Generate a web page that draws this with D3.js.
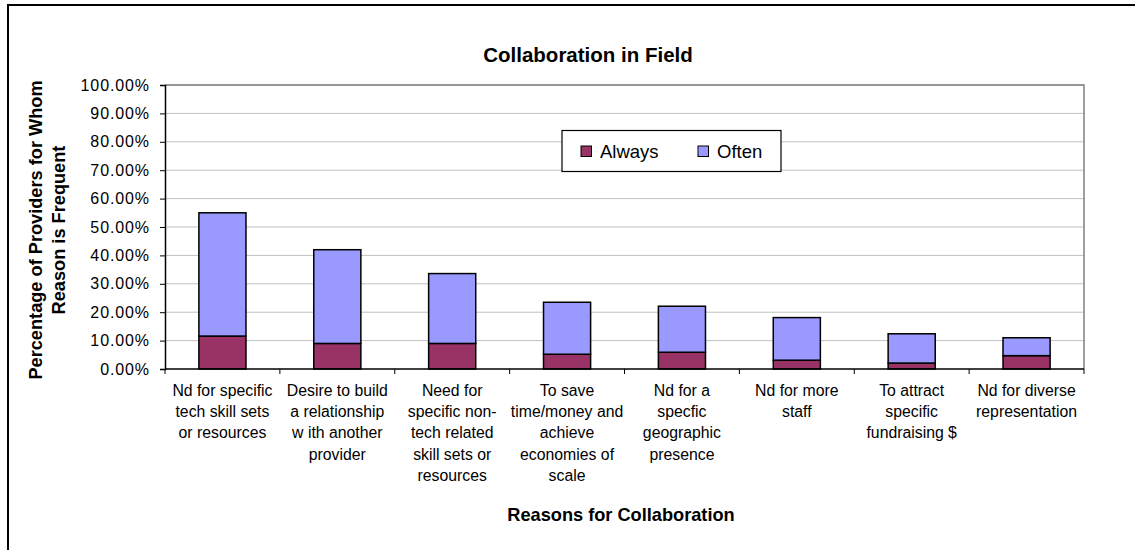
<!DOCTYPE html>
<html>
<head>
<meta charset="utf-8">
<script src="https://cdn.jsdelivr.net/npm/d3@7"></script>
<style>
  html, body { margin: 0; padding: 0; background: #fff; }
  svg { display: block; font-family: "Liberation Sans", Arial, sans-serif; }
</style>
</head>
<body>
<svg id="chart" width="1135" height="550"></svg>
<script>
// ---- Data ----
const categories = [
  "Nd for specific\ntech skill sets\nor resources",
  "Desire to build\na relationship\nw ith another\nprovider",
  "Need for\nspecific non-\ntech related\nskill sets or\nresources",
  "To save\ntime/money and\nachieve\neconomies of\nscale",
  "Nd for a\nspecfic\ngeographic\npresence",
  "Nd for more\nstaff",
  "To attract\nspecific\nfundraising $",
  "Nd for diverse\nrepresentation"
];
const seriesNames = ["Always", "Often"];
const alwaysValues = [0.116, 0.090, 0.090, 0.052, 0.059, 0.031, 0.021, 0.047];
const oftenValues  = [0.434, 0.330, 0.246, 0.183, 0.162, 0.150, 0.103, 0.063];
const yTicks = [0, 0.1, 0.2, 0.3, 0.4, 0.5, 0.6, 0.7, 0.8, 0.9, 1.0];
const colors = { Always: "#993366", Often: "#9999FF" };

const chartTitle = "Collaboration in Field";
const xTitle = "Reasons for Collaboration";
const yTitleLines = ["Percentage of Providers for Whom", "Reason is Frequent"];

// ---- Layout ----
const svg = d3.select("#chart");
const plot = { left: 165, top: 85, right: 1084, bottom: 369 };

// outer frame (partially cropped in reference)
svg.append("rect")
  .attr("x", 8).attr("y", 5)
  .attr("width", 1140).attr("height", 560)
  .attr("fill", "#fff").attr("stroke", "#000").attr("stroke-width", 2);

const x = d3.scaleBand()
  .domain(categories)
  .range([plot.left, plot.right])
  .paddingInner(0.59).paddingOuter(0.295);

const y = d3.scaleLinear().domain([0, 1]).range([plot.bottom, plot.top]);

// gridlines
svg.append("g").selectAll("line")
  .data(yTicks.filter(d => d > 0))
  .join("line")
  .attr("x1", plot.left).attr("x2", plot.right)
  .attr("y1", d => y(d)).attr("y2", d => y(d))
  .attr("stroke", "#c0c0c0").attr("stroke-width", 1);

// plot border (top/right grey)
svg.append("path")
  .attr("d", `M${plot.left},${plot.top}H${plot.right}V${plot.bottom}`)
  .attr("fill", "none").attr("stroke", "#808080").attr("stroke-width", 1.5);

// stacked bars
const stackData = categories.map((c, i) => ({ cat: c, Always: alwaysValues[i], Often: oftenValues[i] }));
const stack = d3.stack().keys(seriesNames)(stackData);

svg.append("g").selectAll("g")
  .data(stack)
  .join("g")
  .attr("fill", d => colors[d.key])
  .selectAll("rect")
  .data(d => d)
  .join("rect")
  .attr("x", d => x(d.data.cat))
  .attr("width", x.bandwidth())
  .attr("y", d => y(d[1]))
  .attr("height", d => y(d[0]) - y(d[1]))
  .attr("stroke", "#000").attr("stroke-width", 1.5);

// y axis
const yAxis = d3.axisLeft(y)
  .tickValues(yTicks)
  .tickFormat(d => (d * 100).toFixed(2) + "%")
  .tickSize(5).tickPadding(10);
const yg = svg.append("g").attr("transform", `translate(${plot.left},0)`).call(yAxis);
yg.select(".domain").attr("stroke", "#000").attr("stroke-width", 1.5);
yg.selectAll(".tick line").attr("stroke", "#000");
yg.selectAll("text")
  .attr("font-size", 16).attr("fill", "#000")
  .attr("letter-spacing", "0.9px")
  .attr("font-family", "Liberation Sans, Arial, sans-serif");

// x axis
const xEdges = d3.range(categories.length + 1).map(i => plot.left + i * (plot.right - plot.left) / categories.length);
svg.append("line")
  .attr("x1", plot.left).attr("x2", plot.right)
  .attr("y1", plot.bottom).attr("y2", plot.bottom)
  .attr("stroke", "#000").attr("stroke-width", 1.5);
svg.append("g").selectAll("line")
  .data(xEdges)
  .join("line")
  .attr("x1", d => d).attr("x2", d => d)
  .attr("y1", plot.bottom).attr("y2", plot.bottom + 5)
  .attr("stroke", "#000");

// category labels
const lab = svg.append("g")
  .attr("font-size", 15.8).attr("fill", "#000").attr("text-anchor", "middle");
categories.forEach(c => {
  const cx = x(c) + x.bandwidth() / 2;
  const t = lab.append("text").attr("x", cx).attr("y", 396);
  c.split("\n").forEach((line, i) => {
    t.append("tspan").attr("x", cx).attr("dy", i === 0 ? 0 : 21.2).text(line);
  });
});

// title
svg.append("text")
  .attr("x", 588).attr("y", 62)
  .attr("text-anchor", "middle")
  .attr("font-size", 20.5).attr("font-weight", "bold")
  .text(chartTitle);

// x title
svg.append("text")
  .attr("x", 621).attr("y", 521)
  .attr("text-anchor", "middle")
  .attr("font-size", 18.2).attr("font-weight", "bold")
  .text(xTitle);

// y title
const yt = svg.append("text")
  .attr("transform", `translate(0,${(380 + 80) / 2}) rotate(-90)`)
  .attr("text-anchor", "middle")
  .attr("font-size", 18.2).attr("font-weight", "bold");
yTitleLines.forEach((line, i) => {
  yt.append("tspan").attr("x", 0).attr("y", 41.5 + i * 23).text(line);
});

// legend
const lg = svg.append("g");
lg.append("rect")
  .attr("x", 562).attr("y", 130.5)
  .attr("width", 219).attr("height", 41)
  .attr("fill", "#fff").attr("stroke", "#000").attr("stroke-width", 1.2);
const legendX = [581, 698];
seriesNames.forEach((s, i) => {
  lg.append("rect")
    .attr("x", legendX[i]).attr("y", 146)
    .attr("width", 10.5).attr("height", 10.5)
    .attr("fill", colors[s]).attr("stroke", "#000").attr("stroke-width", 1);
  lg.append("text")
    .attr("x", legendX[i] + 19).attr("y", 157.5)
    .attr("font-size", 18.5)
    .text(s);
});
</script>
</body>
</html>
